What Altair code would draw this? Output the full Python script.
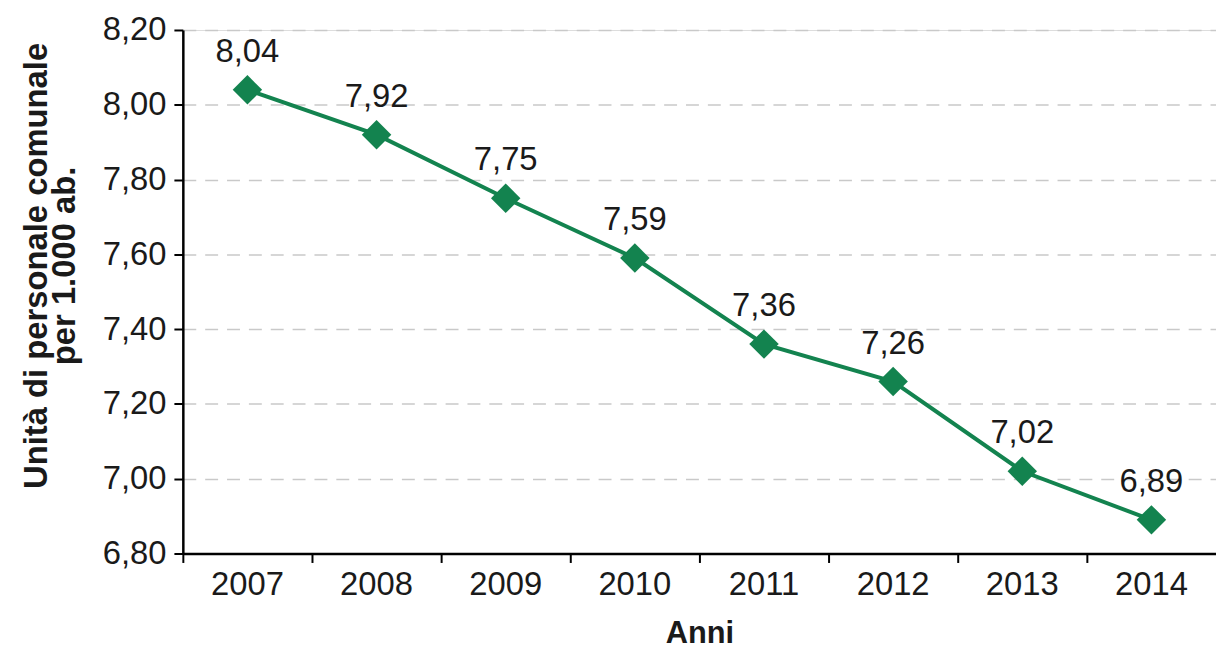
import altair as alt
import pandas as pd

years = ["2007", "2008", "2009", "2010", "2011", "2012", "2013", "2014"]
values = [8.04, 7.92, 7.75, 7.59, 7.36, 7.26, 7.02, 6.89]
y_ticks = [6.8, 7.0, 7.2, 7.4, 7.6, 7.8, 8.0, 8.2]

df = pd.DataFrame({"anno": years, "valore": values})

GREEN = "#13834f"
FONT = "Liberation Sans"
TXT = "#1a1a1a"

x_enc = alt.X(
    "anno:N",
    sort=years,
    scale=alt.Scale(type="band", paddingInner=0, paddingOuter=0),
    axis=alt.Axis(
        title="Anni",
        titleFont=FONT, titleFontSize=31, titleFontWeight="bold", titleColor=TXT,
        titleBaseline="top", titleY=66,
        labelFont=FONT, labelFontSize=33, labelColor=TXT, labelAngle=0,
        labelPadding=6,
        bandPosition=0, ticks=True, tickSize=9, tickColor="#000", tickWidth=2,
        domainColor="#000", domainWidth=2.5, grid=False,
    ),
)
y_enc = alt.Y(
    "valore:Q",
    scale=alt.Scale(domain=[6.8, 8.2], nice=False, zero=False),
    axis=alt.Axis(
        title=["Unità di personale comunale", "per 1.000 ab."],
        titleFont=FONT, titleFontSize=33, titleFontWeight="bold", titleColor=TXT,
        titleLineHeight=28, titleX=-130, titleY=237, titleBaseline="bottom",
        labelFont=FONT, labelFontSize=33, labelColor=TXT,
        labelExpr="replace(format(datum.value, '.2f'), '.', ',')",
        labelPadding=8,
        values=y_ticks, tickSize=9, tickColor="#000", tickWidth=2,
        domainColor="#000", domainWidth=2.5,
        grid=True, gridColor="#c9c9c9", gridDash=[13, 9], gridWidth=1.6,
    ),
)

base = alt.Chart(df).encode(x=x_enc, y=y_enc)

line = base.mark_line(color=GREEN, strokeWidth=4)
points = base.mark_point(shape="diamond", filled=True, size=880, color=GREEN, opacity=1)
labels = base.transform_calculate(
    lab="replace(format(datum.valore, '.2f'), '.', ',')"
).mark_text(
    font=FONT, fontSize=33, color=TXT, baseline="alphabetic", dy=-28
).encode(text="lab:N")

chart = (
    alt.layer(line, points, labels)
    .properties(
        width=1040,
        height=527,
        autosize=alt.AutoSizeParams(type="none"),
        padding={"left": 176, "top": 20, "right": 0, "bottom": 98},
    )
    .configure_view(stroke=None)
    .configure(background="white")
)

chart.save("out.html", embed_options={"renderer": "svg", "actions": False})
